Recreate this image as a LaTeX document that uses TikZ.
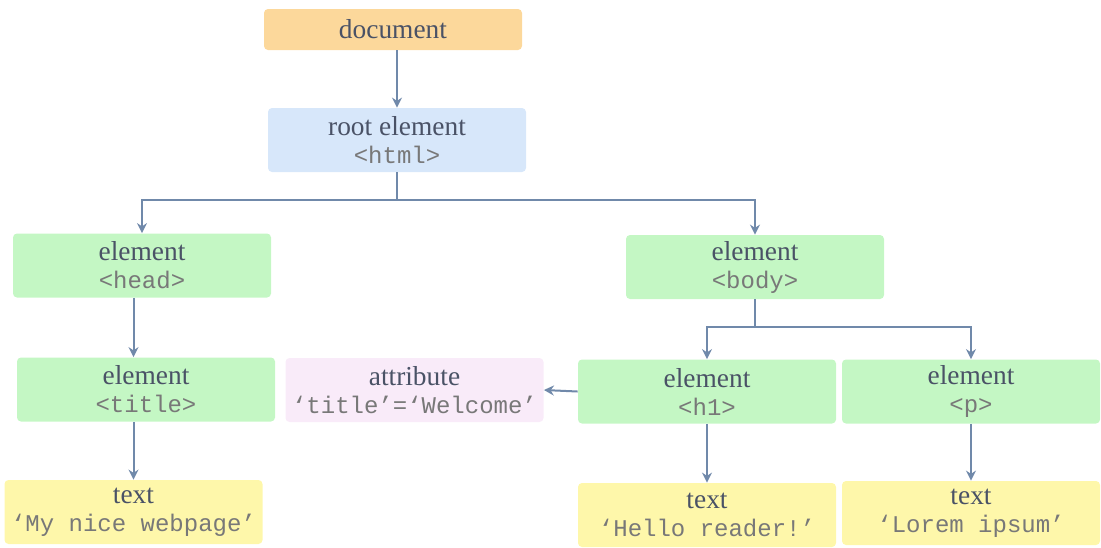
\documentclass[tikz,border=0pt]{standalone}
\usepackage{fontspec}
\setmainfont{Liberation Serif}
\setmonofont{Liberation Mono}
\usetikzlibrary{arrows.meta}
\definecolor{docfill}{RGB}{252,216,155}
\definecolor{rootfill}{RGB}{215,231,250}
\definecolor{elemfill}{RGB}{196,247,196}
\definecolor{attrfill}{RGB}{249,235,249}
\definecolor{textfill}{RGB}{254,247,170}
\definecolor{ink}{RGB}{74,82,102}
\definecolor{monoink}{RGB}{120,120,120}
\definecolor{arrowc}{RGB}{112,137,170}
\newcommand{\tag}[1]{{\color{monoink}\fontsize{12}{13.5}\ttfamily #1}}
\begin{document}
\begin{tikzpicture}[x=0.5pt, y=-0.5pt,
    box/.style = {rounded corners=2pt, minimum width=129pt, minimum height=32pt,
        align=center, text=ink, font=\fontsize{13.7}{14}\selectfont, inner sep=1pt},
    arr/.style = {draw=arrowc, line width=1pt, -{Stealth[length=5pt,width=5pt]}}]
    \useasboundingbox (0,0) rectangle (1101,547);
    \node[box, fill=docfill, minimum height=20.5pt] (doc) at (393,29.5) {document};
    \node[box, fill=rootfill] (root) at (397,140) {root element\\\tag{<html>}};
    \node[box, fill=elemfill] (head) at (142,265.5) {element\\\tag{<head>}};
    \node[box, fill=elemfill] (body) at (755,267) {element\\\tag{<body>}};
    \node[box, fill=elemfill] (title) at (146,389.5) {element\\\tag{<title>}};
    \node[box, fill=attrfill] (attr) at (414.5,390) {attribute\\\tag{‘title’=‘Welcome’}};
    \node[box, fill=elemfill] (hone) at (707,391.5) {element\\\tag{<h1>}};
    \node[box, fill=elemfill] (para) at (971,391.5) {element\\\tag{<p>}};
    \node[box, fill=textfill] (txtone) at (133.5,512) {text\\\tag{‘My nice webpage’}};
    \node[box, fill=textfill] (txttwo) at (707,515) {text\\\tag{‘Hello reader!’}};
    \node[box, fill=textfill] (txtthree) at (971,513) {text\\\tag{‘Lorem ipsum’}};
    % connectors
    \draw[arr] (doc.south -| root) -- (root.north);
    \draw[arr] (root.south) -- ++(0,28) -| (head.north);
    \draw[arr] (root.south) -- ++(0,28) -| (body.north);
    \draw[arr] (head.south -| txtone) -- (title.north -| txtone);
    \draw[arr] (title.south -| txtone) -- (txtone.north);
    \draw[arr] (body.south) -- ++(0,28) -| (hone.north);
    \draw[arr] (body.south) -- ++(0,28) -| (para.north);
    \draw[arr] (hone.west) -- (attr.east);
    \draw[arr] (hone.south) -- (txttwo.north);
    \draw[arr] (para.south) -- (txtthree.north);
\end{tikzpicture}
\end{document}
